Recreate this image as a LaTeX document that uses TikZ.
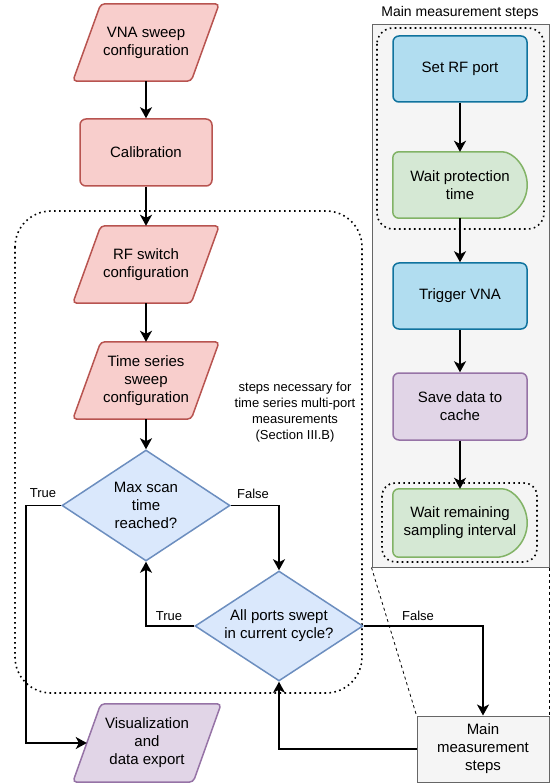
\documentclass[tikz,border=0pt]{standalone}
\usepackage{fontspec}
\setmainfont{Liberation Sans}
\usetikzlibrary{shapes.geometric,arrows.meta,backgrounds}
\definecolor{redfill}{HTML}{F8CECC}\definecolor{redline}{HTML}{B85450}
\definecolor{dbfill}{HTML}{DAE8FC}\definecolor{dbline}{HTML}{6C8EBF}
\definecolor{bfill}{HTML}{B1DDF0}\definecolor{bline}{HTML}{10739E}
\definecolor{gfill}{HTML}{D5E8D4}\definecolor{gline}{HTML}{82B366}
\definecolor{pfill}{HTML}{E1D5E7}\definecolor{pline}{HTML}{9673A6}
\definecolor{grfill}{HTML}{F5F5F5}\definecolor{grline}{HTML}{666666}
\begin{document}
\begin{tikzpicture}[x=1pt,y=-1pt,
  txt/.style={font=\fontsize{15}{18}\selectfont, align=center, text=black},
  small/.style={font=\fontsize{13}{16}\selectfont, align=center, text=black},
  para/.style={txt, rectangle, minimum width=146pt, minimum height=77pt, inner sep=0pt},
  rbox/.style={txt, rectangle, rounded corners=6pt, line width=1.5pt, minimum width=134pt, minimum height=66pt, inner sep=0pt},
  delay/.style={txt, rectangle, minimum width=134pt, minimum height=66pt, inner sep=0pt},
  dia/.style={diamond, draw=dbline, fill=dbfill, line width=1.5pt, minimum width=168pt, minimum height=111pt, inner sep=0pt},
  arr/.style={line width=1.6pt, -{Stealth[length=11pt,width=12pt,inset=3pt]}},
  dots/.style={line width=1.6pt, dash pattern=on 1.6pt off 3.4pt},
]
\useasboundingbox (0,0) rectangle (554,783);

% right panel (bottom of background layer)
\begin{scope}[on background layer]
\node[rectangle, draw=grline, fill=grfill, line width=1pt, minimum width=177pt, minimum height=542pt, inner sep=0pt] (panel) at (460.5,296) {};
\end{scope}
\node[txt, font=\fontsize{14}{17}\selectfont] (ptitle) at (460,13) {Main measurement steps};

% dotted regions
\draw[dots, rounded corners=36pt] (15,211) rectangle (362,693);
\draw[dots, rounded corners=16pt] (377,28) rectangle (544,229);
\draw[dots, rounded corners=13pt] (382,483) rectangle (537,562);

% left flow
\node[para] (vna) at (146,42.5) {VNA sweep\\configuration};
\node[rbox, draw=redline, fill=redfill, minimum width=132pt, minimum height=67pt] (cal) at (146,152.5) {Calibration};
\node[para] (rfsw) at (146,264.5) {RF switch\\configuration};
\node[para] (tss) at (146,380.5) {Time series\\sweep\\configuration};
\node[dia] (maxs) at (146,505.5) {};
\node[txt] (maxst) at (146,505.5) {Max scan\\time\\reached?};
\node[dia, minimum height=110pt] (allp) at (279,626) {};
\node[txt] (allpt) at (279,626) {All ports swept\\in current cycle?};
\node[para, minimum width=148pt, minimum height=78pt] (vis) at (147,743) {Visualization\\and\\data export};
\node[txt, rectangle, draw=grline, fill=grfill, line width=1pt, minimum width=132pt, minimum height=66pt, inner sep=0pt] (mainbox) at (483,749) {Main\\measurement\\steps};

% right flow
\node[rbox, draw=bline, fill=bfill] (setrf) at (460,69) {Set RF port};
\node[delay] (waitp) at (460,185) {Wait protection\\time};
\node[rbox, draw=bline, fill=bfill] (trig) at (460,296) {Trigger VNA};
\node[rbox, draw=pline, fill=pfill, minimum height=67pt] (save) at (460,406.5) {Save data to\\cache};
\node[delay, minimum height=68pt] (waitr) at (460,523) {Wait remaining\\sampling interval};

\begin{scope}[on background layer]
\foreach \n/\f/\l in {vna/redfill/redline, rfsw/redfill/redline, tss/redfill/redline, vis/pfill/pline}
  \path[fill=\f, draw=\l, line width=1.5pt, rounded corners=4pt]
    ([xshift=28pt]\n.north west) -- (\n.north east) -- ([xshift=-28pt]\n.south east) -- (\n.south west) -- cycle;
\foreach \n in {waitp, waitr}
  \path[fill=gfill, draw=gline, line width=1.5pt]
    ([xshift=-31pt]\n.north east) .. controls ([xshift=-14pt]\n.north east) and ([yshift=18pt]\n.east) .. (\n.east)
    .. controls ([yshift=-18pt]\n.east) and ([xshift=-14pt]\n.south east) .. ([xshift=-31pt]\n.south east)
    [rounded corners=6pt] -- (\n.south west) -- (\n.north west) -- cycle;
\end{scope}

% note
\node[small] (note) at (295,412) {steps necessary for\\time series multi-port\\measurements\\(Section III.B)};

% connectors
\draw[arr] (vna.south) -- (cal.north);
\draw[arr] (cal.south) -- (rfsw.north);
\draw[arr] (rfsw.south) -- (tss.north);
\draw[arr] (tss.south) -- (maxs.north);
\draw[arr] (maxs.east) -| (allp.north);
\draw[arr] (maxs.west) -- ++(-35,0) |- ([xshift=14pt]vis.west);
\draw[arr] (allp.west) -| (maxs.south);
\draw[arr] (allp.east) -| (mainbox.north);
\draw[arr] (mainbox.west) -| (allp.south);

\draw[arr] (setrf.south) -- (waitp.north);
\draw[arr] (waitp.south) -- (trig.north);
\draw[arr] (trig.south) -- (save.north);
\draw[arr] (save.south) -- (waitr.north);

\draw[line width=0.8pt, dash pattern=on 3pt off 3pt] (panel.south west) -- (mainbox.north west);
\draw[line width=0.8pt, dash pattern=on 3pt off 3pt] (panel.south east) -- (mainbox.north east);

% labels
\node[small] (t1) at (43,493) {True};
\node[small] (f1) at (253,494) {False};
\node[small] (t2) at (169,616) {True};
\node[small] (f2) at (418,616) {False};
\end{tikzpicture}
\end{document}
